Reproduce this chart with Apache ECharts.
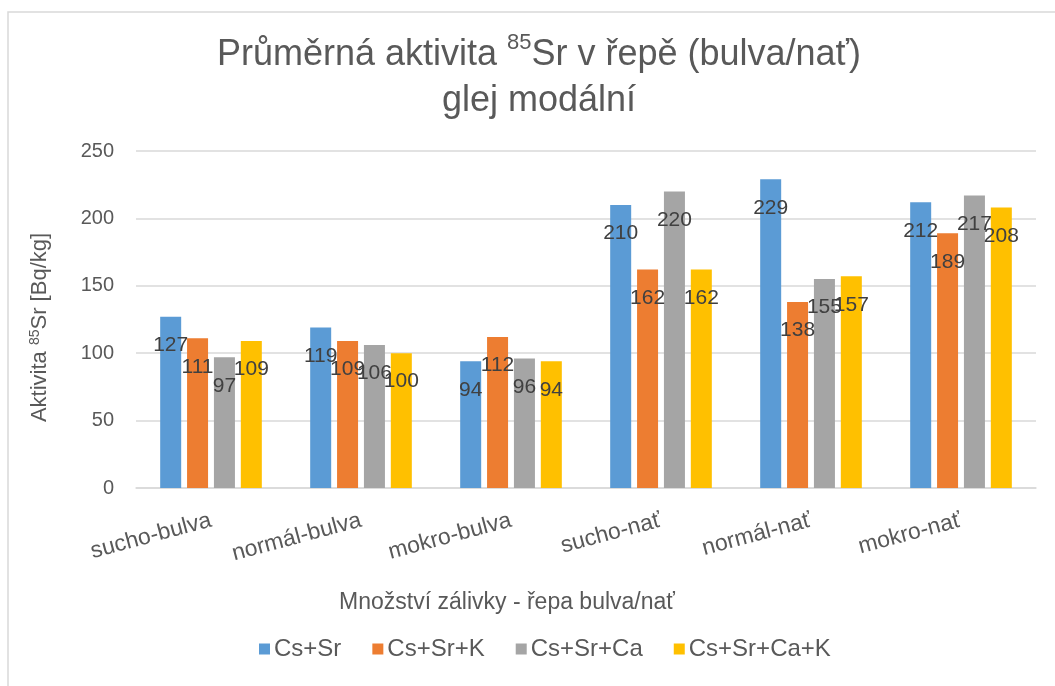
<!DOCTYPE html>
<html>
<head>
<meta charset="utf-8">
<script src="https://cdn.jsdelivr.net/npm/echarts@6/dist/echarts.min.js"></script>
<style>
    html, body { margin: 0; padding: 0; background: #fff; }
    #chart { width: 1055px; height: 686px; }
</style>
</head>
<body>
<div id="chart"></div>
<script>
    var categories = ['sucho-bulva', 'normál-bulva', 'mokro-bulva', 'sucho-nať', 'normál-nať', 'mokro-nať'];
    var seriesNames = ['Cs+Sr', 'Cs+Sr+K', 'Cs+Sr+Ca', 'Cs+Sr+Ca+K'];
    var csSr = [127, 119, 94, 210, 229, 212];
    var csSrK = [111, 109, 112, 162, 138, 189];
    var csSrCa = [97, 106, 96, 220, 155, 217];
    var csSrCaK = [109, 100, 94, 162, 157, 208];
    var colors = ['#5B9BD5', '#ED7D31', '#A5A5A5', '#FFC000'];

    var fontFamily = '"Liberation Sans", Arial, sans-serif';
    var chart = echarts.init(document.getElementById('chart'));

    function makeSeries(name, data, color) {
        return {
            name: name,
            type: 'bar',
            data: data,
            barWidth: 21,
            barGap: '28%',
            itemStyle: {color: color},
            label: {
                show: true,
                position: 'insideTop',
                distance: 18,
                color: '#404040',
                fontSize: 21,
                fontFamily: fontFamily
            }
        };
    }

    var option = {
        backgroundColor: '#fff',
        animation: false,
        color: colors,
        graphic: [{
            type: 'rect',
            shape: {x: 8, y: 12, width: 1080, height: 700},
            style: {fill: 'none', stroke: '#d9d9d9', lineWidth: 1.5},
            silent: true
        }],
        title: {
            text: 'Průměrná aktivita {sup|85}Sr v řepě (bulva/nať)\nglej modální',
            left: 534,
            textAlign: 'center',
            top: 27,
            textStyle: {
                fontFamily: fontFamily,
                fontSize: 36,
                fontWeight: 'normal',
                color: '#595959',
                lineHeight: 46,
                rich: {
                    sup: {fontSize: 22, fontFamily: fontFamily, color: '#595959', verticalAlign: 'top', lineHeight: 46, padding: [0, 0, 16, 0]}
                }
            }
        },
        legend: {
            data: seriesNames,
            bottom: 20,
            left: 254,
            itemWidth: 11,
            itemHeight: 11,
            itemGap: 31,
            icon: 'rect',
            textStyle: {fontFamily: fontFamily, fontSize: 24, color: '#595959', padding: [0, 0, 0, -1]}
        },
        grid: {left: 136, right: 19, top: 151, bottom: 198},
        xAxis: {
            type: 'category',
            data: categories,
            name: 'Množství zálivky - řepa bulva/nať',
            nameLocation: 'middle',
            nameGap: 103,
            nameTextStyle: {fontFamily: fontFamily, fontSize: 23, color: '#595959', padding: [0, 158, 0, 0]},
            axisLine: {lineStyle: {color: '#d9d9d9', width: 1.5}},
            axisTick: {show: false},
            axisLabel: {
                rotate: 15,
                interval: 0,
                margin: 32,
                fontFamily: fontFamily,
                fontSize: 23,
                color: '#595959'
            }
        },
        yAxis: {
            type: 'value',
            min: 0,
            max: 250,
            interval: 50,
            name: 'Aktivita {sup|85}Sr [Bq/kg]',
            nameLocation: 'middle',
            nameGap: 84,
            nameTextStyle: {
                fontFamily: fontFamily,
                fontSize: 22,
                color: '#595959',
                padding: [0, 16, 0, 0],
                rich: {
                    sup: {fontSize: 14, fontFamily: fontFamily, color: '#595959', padding: [0, 0, 10, 0]}
                }
            },
            axisLine: {show: false},
            axisTick: {show: false},
            splitLine: {lineStyle: {color: '#d9d9d9', width: 1.5}},
            axisLabel: {
                margin: 22,
                fontFamily: fontFamily,
                fontSize: 20,
                color: '#595959'
            }
        },
        series: [
            makeSeries(seriesNames[0], csSr, colors[0]),
            makeSeries(seriesNames[1], csSrK, colors[1]),
            makeSeries(seriesNames[2], csSrCa, colors[2]),
            makeSeries(seriesNames[3], csSrCaK, colors[3])
        ]
    };

    chart.setOption(option);
</script>
</body>
</html>
